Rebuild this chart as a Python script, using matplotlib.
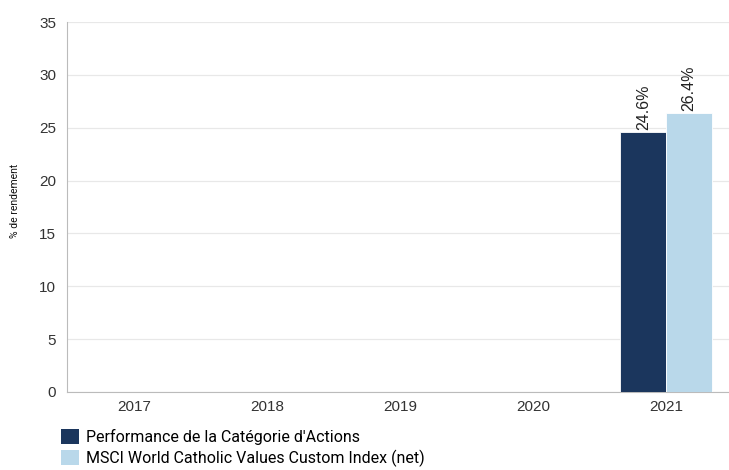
import numpy as np
import matplotlib.pyplot as plt
from matplotlib.patches import Patch

# données
annees = ["2017", "2018", "2019", "2020", "2021"]
categorie_actions = [np.nan, np.nan, np.nan, np.nan, 24.6]
indice_msci = [np.nan, np.nan, np.nan, np.nan, 26.4]
noms_series = ["Performance de la Catégorie d'Actions",
               "MSCI World Catholic Values Custom Index (net)"]
couleurs = ["#1b365d", "#b9d8ea"]

plt.rcParams['font.family'] = ['Liberation Sans', 'DejaVu Sans']
police_etroite = ['Roboto', 'Liberation Sans', 'DejaVu Sans']

fig = plt.figure(figsize=(7.29, 4.70), dpi=100)
# la zone de tracé déborde un peu à droite, comme dans l'original
ax = fig.add_axes([0.0922, 0.166, 0.913, 0.787])

x = np.arange(len(annees))
largeur = 0.345

barres1 = ax.bar(x - largeur / 2, categorie_actions, largeur, color=couleurs[0],
                 edgecolor="white", linewidth=0.6, zorder=3)
barres2 = ax.bar(x + largeur / 2, indice_msci, largeur, color=couleurs[1],
                 edgecolor="white", linewidth=0.6, zorder=3)

# étiquettes verticales au-dessus des barres
for barres, valeurs in [(barres1, categorie_actions), (barres2, indice_msci)]:
    for b, v in zip(barres, valeurs):
        if np.isnan(v):
            continue
        ax.text(b.get_x() + b.get_width() / 2, v + 0.2, f"{v:.1f}%",
                rotation=90, ha="center", va="bottom", fontsize=11.5, color="#222222")

ax.set_xlim(-0.5, len(annees) - 0.5)
ax.set_ylim(0, 35)
ax.set_yticks(range(0, 36, 5))
ax.set_xticks(x)
ax.set_xticklabels(annees)
ax.tick_params(axis="both", length=0, labelsize=11, colors="#333333")
ax.tick_params(axis="y", pad=8)
ax.tick_params(axis="x", pad=6)

ax.grid(axis="y", color="#e8e8e8", linewidth=0.9, zorder=0)
ax.set_axisbelow(True)
for cote in ["top", "right"]:
    ax.spines[cote].set_visible(False)
ax.spines["left"].set_color("#bbbbbb")
ax.spines["bottom"].set_color("#bbbbbb")

fig.text(0.021, 0.572, "% de rendement", rotation=90, ha="center", va="center",
         fontsize=7.5, family=police_etroite, color="#111111")

poignees = [Patch(facecolor=c, edgecolor="none") for c in couleurs]
fig.legend(poignees, noms_series, loc="upper left", bbox_to_anchor=(0.084, 0.088),
           frameon=False, prop={'family': police_etroite, 'size': 11.5},
           handlelength=1.1, handleheight=1.1, handletextpad=0.45,
           labelspacing=0.3, borderaxespad=0, borderpad=0)

fig.savefig("out.png", dpi=100)
